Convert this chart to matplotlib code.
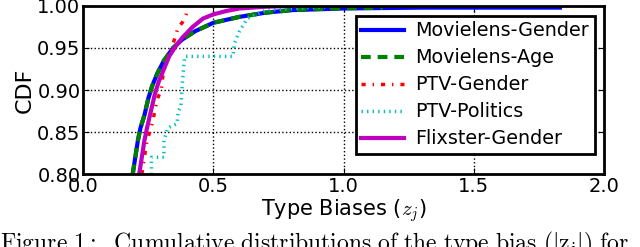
import matplotlib
matplotlib.use('Agg')
import matplotlib.pyplot as plt

plt.rcParams['mathtext.fontset'] = 'cm'
plt.rcParams['lines.scale_dashes'] = False

# CDF curves: (type bias, cdf)
ml_gender_x = [0.19, 0.20, 0.21, 0.22, 0.235, 0.25, 0.265, 0.285, 0.31, 0.345, 0.38, 0.43, 0.50, 0.60, 0.70, 0.80, 1.00, 1.30, 1.60, 1.83]
ml_gender_y = [0.80, 0.82, 0.84, 0.855, 0.87, 0.89, 0.905, 0.92, 0.935, 0.95, 0.96, 0.97, 0.98, 0.987, 0.992, 0.995, 0.997, 0.998, 0.998, 0.998]

ml_age_x = [0.19, 0.20, 0.21, 0.22, 0.235, 0.25, 0.265, 0.285, 0.31, 0.345, 0.38, 0.43, 0.50, 0.60, 0.70, 0.80, 0.95, 1.15]
ml_age_y = [0.80, 0.82, 0.84, 0.855, 0.87, 0.89, 0.905, 0.92, 0.935, 0.95, 0.96, 0.97, 0.98, 0.987, 0.992, 0.995, 0.997, 0.998]

ptv_gender_x = [0.225, 0.235, 0.245, 0.255, 0.265, 0.275, 0.285, 0.30, 0.305, 0.315, 0.33, 0.345, 0.355, 0.365, 0.38, 0.395, 0.40]
ptv_gender_y = [0.80, 0.82, 0.84, 0.85, 0.86, 0.875, 0.89, 0.90, 0.915, 0.93, 0.94, 0.955, 0.965, 0.975, 0.98, 0.99, 1.00]

ptv_politics_x = [0.262, 0.262, 0.31, 0.31, 0.325, 0.36, 0.365, 0.375, 0.38, 0.385, 0.39, 0.575, 0.58, 0.60, 0.63, 0.70, 1.00]
ptv_politics_y = [0.80, 0.82, 0.82, 0.84, 0.855, 0.86, 0.875, 0.88, 0.905, 0.925, 0.94, 0.94, 0.955, 0.97, 0.985, 0.995, 1.00]

flixster_x = [0.215, 0.225, 0.235, 0.245, 0.26, 0.275, 0.29, 0.31, 0.33, 0.355, 0.38, 0.42, 0.46, 0.50, 0.55, 0.60, 0.70, 0.80]
flixster_y = [0.80, 0.82, 0.84, 0.855, 0.875, 0.895, 0.91, 0.925, 0.94, 0.952, 0.962, 0.975, 0.985, 0.99, 0.994, 0.997, 0.999, 1.00]

xticks = [0.0, 0.5, 1.0, 1.5, 2.0]
yticks = [0.80, 0.85, 0.90, 0.95, 1.00]

fig = plt.figure(figsize=(6.4, 2.47), dpi=100)
ax = fig.add_axes([0.13, 0.295, 0.814, 0.681])

ax.plot(ml_gender_x, ml_gender_y, color='b', lw=3, ls='-', label='Movielens-Gender')
ax.plot(ml_age_x, ml_age_y, color='g', lw=3, dashes=(7, 5), label='Movielens-Age')
ax.plot(ptv_gender_x, ptv_gender_y, color='r', lw=2.5, dashes=(3, 5, 1, 5), label='PTV-Gender')
ax.plot(ptv_politics_x, ptv_politics_y, color='c', lw=2.5, dashes=(1, 3), label='PTV-Politics')
ax.plot(flixster_x, flixster_y, color='m', lw=3, ls='-', label='Flixster-Gender')

ax.set_xlim(0, 2)
ax.set_ylim(0.8, 1.0)
ax.set_xticks(xticks)
ax.set_yticks(yticks)
ax.set_xticklabels(['%.1f' % t for t in xticks])
ax.set_yticklabels(['%.2f' % t for t in yticks])
ax.tick_params(direction='in', top=True, right=True, labelsize=14, length=4, pad=2)
ax.grid(True, color='k', ls=':', lw=1)
for s in ax.spines.values():
    s.set_linewidth(2)

ax.set_xlabel(r'Type Biases ($z_j$)', fontsize=15, labelpad=1)
ax.set_ylabel('CDF', fontsize=16, labelpad=2)

leg = ax.legend(loc='upper right', fontsize=13.8, fancybox=False, framealpha=1,
                handlelength=2.2, labelspacing=0.42, borderpad=0.3, borderaxespad=0.5,
                handletextpad=0.6)
leg.get_frame().set_edgecolor('k')
leg.get_frame().set_linewidth(2)

fig.text(0.0, -0.01, r'$\mathrm{Figure\ 1{:}\ \ Cumulative\ distributions\ of\ the\ type\ bias\ (|z_j|)\ for}$',
         fontsize=17, va='baseline', ha='left')

fig.savefig('out.png', dpi=100)
